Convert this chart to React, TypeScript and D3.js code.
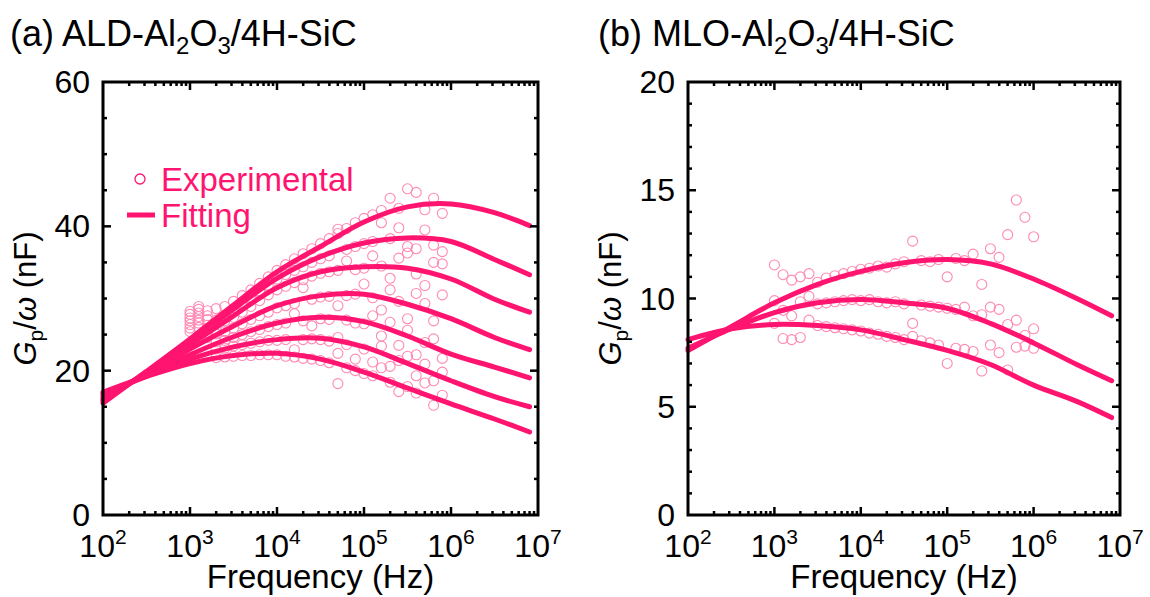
import React from "react";
import * as d3 from "d3";

const W = 1150;
const H = 597;
const PINK = "#ff1470";
const PINK_LIGHT = "#ff8ab4";
const FONT = "'Liberation Sans', Arial, sans-serif";

// Fitting curves: frequency (Hz) and Gp/ω (nF)
const FIT_FREQ = [100, 316, 1000, 3162, 10000, 31623, 100000, 316228, 1000000, 3162278, 8000000];

const ALD_FIT_1 = [15.5, 19.9, 24.4, 29.1, 33.7, 37.2, 40.6, 42.7, 43.1, 41.9, 40.1];
const ALD_FIT_2 = [15.8, 19.8, 24.0, 28.5, 32.8, 35.8, 37.7, 38.4, 37.9, 35.4, 33.3];
const ALD_FIT_3 = [16.0, 19.7, 23.6, 27.6, 31.5, 33.7, 34.4, 34.2, 32.7, 29.9, 28.1];
const ALD_FIT_4 = [16.2, 19.6, 23.0, 26.2, 29.0, 30.4, 30.6, 29.2, 27.2, 24.6, 22.9];
const ALD_FIT_5 = [16.5, 19.4, 22.2, 24.7, 26.6, 27.4, 26.8, 24.8, 22.3, 20.5, 19.0];
const ALD_FIT_6 = [16.8, 19.2, 21.6, 23.3, 24.3, 24.5, 23.3, 21.0, 18.6, 16.4, 15.0];
const ALD_FIT_7 = [17.0, 19.2, 21.0, 22.1, 22.4, 21.6, 19.8, 17.6, 15.4, 13.3, 11.5];

const MLO_FIT_1 = [7.6, 8.7, 9.8, 10.65, 11.25, 11.65, 11.8, 11.6, 10.9, 10.0, 9.2];
const MLO_FIT_2 = [7.7, 8.6, 9.35, 9.8, 9.95, 9.8, 9.55, 8.85, 7.95, 6.95, 6.2];
const MLO_FIT_3 = [8.1, 8.6, 8.8, 8.75, 8.55, 8.1, 7.6, 6.95, 6.0, 5.25, 4.5];

// Experimental points
const ALD_EXP_FREQ = [
  1000, 1259, 1585, 1995, 2512, 3162, 3981, 5012, 6310, 7943,
  10000, 12589, 15849, 19953, 25119, 31623, 39811, 50119, 63096, 79433,
  100000, 125893, 158489, 199526, 251189, 316228, 398107, 501187, 630957, 794328,
];
const ALD_EXP_1 = [28.2, 28.9, 28.3, 28.6, 28.9, 29.6, 30.4, 31.2, 32.1, 33.0, 33.9, 34.7, 35.5, 36.2, 36.9, 37.6, 38.3, 39.0, 39.7, 40.5, 41.1, 41.6, 42.2, 43.9, 42.5, 45.2, 44.7, 42.3, 43.9, 41.8];
const ALD_EXP_2 = [27.8, 28.5, 27.6, 27.0, 27.5, 28.3, 29.2, 30.1, 31.0, 31.8, 32.7, 33.3, 33.9, 34.4, 35.0, 35.5, 35.9, 39.6, 36.8, 37.2, 37.6, 37.9, 40.5, 38.3, 39.8, 37.2, 36.9, 39.5, 37.4, 36.5];
const ALD_EXP_3 = [27.3, 28.0, 27.1, 26.5, 26.9, 27.4, 28.1, 28.9, 29.7, 30.5, 31.2, 31.7, 32.2, 32.6, 33.1, 33.5, 33.7, 33.9, 35.2, 34.0, 34.2, 35.9, 34.5, 32.8, 35.6, 36.3, 33.4, 31.8, 35.0, 34.8];
const ALD_EXP_4 = [26.9, 27.5, 26.3, 25.1, 25.4, 25.9, 26.5, 27.1, 27.6, 28.1, 28.7, 29.0, 29.3, 31.5, 29.9, 30.2, 30.3, 29.0, 30.4, 30.6, 32.0, 30.1, 28.4, 31.2, 29.6, 27.2, 30.7, 29.3, 26.9, 30.5];
const ALD_EXP_5 = [26.4, 27.0, 25.8, 24.0, 24.2, 24.6, 25.0, 25.4, 25.7, 26.1, 26.4, 26.6, 27.9, 26.9, 26.2, 27.2, 27.1, 24.6, 27.0, 26.6, 26.5, 27.6, 24.8, 26.7, 23.5, 25.6, 22.2, 23.9, 24.4, 21.7];
const ALD_EXP_6 = [25.9, 26.6, 25.2, 23.0, 23.1, 23.4, 23.6, 23.8, 24.0, 24.2, 24.2, 24.3, 22.9, 24.3, 24.4, 24.3, 24.1, 22.4, 23.6, 21.6, 23.0, 21.2, 23.4, 20.6, 21.4, 22.0, 19.3, 20.9, 18.6, 19.8];
const ALD_EXP_7 = [25.4, 26.0, 24.6, 21.8, 21.9, 22.0, 22.1, 22.1, 22.2, 22.2, 22.2, 22.0, 21.9, 21.7, 21.6, 21.4, 21.1, 18.2, 20.4, 20.0, 19.6, 19.3, 20.4, 18.4, 17.1, 17.8, 16.9, 18.3, 15.2, 16.6];

const MLO_EXP_FREQ = [
  1000, 1259, 1585, 1995, 2512, 3162, 3981, 5012, 6310, 7943,
  10000, 12589, 15849, 19953, 25119, 31623, 39811, 50119, 63096, 79433,
  100000, 125893, 158489, 199526, 251189, 316228, 398107, 501187, 630957, 794328,
  1000000,
];
const MLO_EXP_1 = [11.55, 11.1, 10.85, 11.0, 11.15, 10.75, 10.95, 11.05, 11.15, 11.25, 11.35, 11.4, 11.5, 11.45, 11.6, 11.7, 12.65, 11.75, 11.7, 11.8, 11.0, 11.85, 11.75, 12.05, 10.65, 12.3, 11.9, 12.95, 14.55, 13.75, 12.85];
const MLO_EXP_2 = [9.9, 9.45, 9.2, 9.85, 10.1, 9.75, 9.8, 9.85, 9.9, 9.95, 9.9, 9.95, 9.85, 9.8, 9.85, 9.75, 8.85, 9.7, 9.65, 9.6, 9.55, 9.5, 9.6, 9.2, 9.25, 9.6, 9.5, 8.8, 9.0, 8.3, 8.6];
const MLO_EXP_3 = [8.85, 8.15, 8.1, 8.2, 9.0, 8.75, 8.7, 8.65, 8.6, 8.55, 8.5, 8.4, 8.35, 8.25, 8.2, 8.1, 8.25, 8.05, 7.95, 7.85, 7.0, 7.7, 7.65, 7.55, 6.65, 7.85, 7.5, 6.7, 7.75, 7.8, 7.7];

const DECADES = [2, 3, 4, 5, 6, 7];

type PanelProps = {
  x0: number;
  x1: number;
  yMax: number;
  yMajor: number[];
  yMinorStep: number;
  fits: number[][];
  expFreq: number[];
  exps: number[][];
};

const Y0 = 515;
const Y1 = 82;

function Panel({ x0, x1, yMax, yMajor, yMinorStep, fits, expFreq, exps }: PanelProps) {
  const x = d3.scaleLog().domain([100, 1e7]).range([x0, x1]);
  const y = d3.scaleLinear().domain([0, yMax]).range([Y0, Y1]);
  const line = d3
    .line<[number, number]>()
    .x((d) => x(d[0]))
    .y((d) => y(d[1]))
    .curve(d3.curveCatmullRom.alpha(0.5));

  const majorLen = 8;
  const minorLen = 4;
  const xMinor: number[] = [];
  for (let e = 2; e < 7; e++) for (let m = 2; m <= 9; m++) xMinor.push(m * Math.pow(10, e));
  const yMinor: number[] = [];
  for (let v = yMinorStep; v < yMax; v += yMinorStep) if (!yMajor.includes(v)) yMinor.push(v);

  return (
    <g>
      {exps.map((vals, i) => (
        <g key={"e" + i}>
          {vals.map((v, j) => (
            <circle key={j} cx={x(expFreq[j])} cy={y(v)} r={5} fill="none" stroke={PINK_LIGHT} strokeWidth={1.1} />
          ))}
        </g>
      ))}
      {fits.map((vals, i) => (
        <path
          key={"f" + i}
          d={line(FIT_FREQ.map((f, j) => [f, vals[j]] as [number, number])) || ""}
          fill="none"
          stroke={PINK}
          strokeWidth={5}
          strokeLinecap="round"
        />
      ))}
      {/* ticks on all four sides, pointing inward */}
      <g stroke="#000" strokeWidth={2.5}>
        {DECADES.slice(1, -1).map((e) => {
          const xx = x(Math.pow(10, e));
          return (
            <g key={"xm" + e}>
              <line x1={xx} x2={xx} y1={Y0} y2={Y0 - majorLen} />
              <line x1={xx} x2={xx} y1={Y1} y2={Y1 + majorLen} />
            </g>
          );
        })}
        {xMinor.map((f) => {
          const xx = x(f);
          return (
            <g key={"xn" + f}>
              <line x1={xx} x2={xx} y1={Y0} y2={Y0 - minorLen} />
              <line x1={xx} x2={xx} y1={Y1} y2={Y1 + minorLen} />
            </g>
          );
        })}
        {yMajor.slice(1, -1).map((v) => {
          const yy = y(v);
          return (
            <g key={"ym" + v}>
              <line x1={x0} x2={x0 + majorLen} y1={yy} y2={yy} />
              <line x1={x1} x2={x1 - majorLen} y1={yy} y2={yy} />
            </g>
          );
        })}
        {yMinor.map((v) => {
          const yy = y(v);
          return (
            <g key={"yn" + v}>
              <line x1={x0} x2={x0 + minorLen} y1={yy} y2={yy} />
              <line x1={x1} x2={x1 - minorLen} y1={yy} y2={yy} />
            </g>
          );
        })}
      </g>
      <rect x={x0} y={Y1} width={x1 - x0} height={Y0 - Y1} fill="none" stroke="#000" strokeWidth={3} />
      {/* tick labels */}
      <g fontFamily={FONT} fontSize={32} fill="#000">
        {yMajor.map((v) => (
          <text key={"yl" + v} x={x0 - 13} y={y(v) + 11} textAnchor="end">
            {v}
          </text>
        ))}
        {DECADES.map((e) => (
          <text key={"xl" + e} x={x(Math.pow(10, e))} y={557} textAnchor="middle">
            10
            <tspan fontSize={21} dy={-13}>
              {e}
            </tspan>
          </text>
        ))}
        <text x={(x0 + x1) / 2} y={588} textAnchor="middle" fontSize={33}>
          Frequency (Hz)
        </text>
        <text transform={`translate(${x0 - 67},${(Y0 + Y1) / 2}) rotate(-90)`} textAnchor="middle" fontSize={31}>
          <tspan fontStyle="italic">G</tspan>
          <tspan fontSize={21} dy={7}>p</tspan>
          <tspan dy={-7}>/</tspan>
          <tspan fontStyle="italic">ω</tspan>
          <tspan> (nF)</tspan>
        </text>
      </g>
    </g>
  );
}

export default function App() {
  return (
    <svg width={W} height={H} style={{ display: "block", position: "absolute", left: 0, top: 0 }}>
      <rect width={W} height={H} fill="#fff" />
      <Panel
        x0={103}
        x1={538}
        yMax={60}
        yMajor={[0, 20, 40, 60]}
        yMinorStep={5}
        fits={[ALD_FIT_1, ALD_FIT_2, ALD_FIT_3, ALD_FIT_4, ALD_FIT_5, ALD_FIT_6, ALD_FIT_7]}
        expFreq={ALD_EXP_FREQ}
        exps={[ALD_EXP_1, ALD_EXP_2, ALD_EXP_3, ALD_EXP_4, ALD_EXP_5, ALD_EXP_6, ALD_EXP_7]}
      />
      <Panel
        x0={688}
        x1={1120}
        yMax={20}
        yMajor={[0, 5, 10, 15, 20]}
        yMinorStep={1}
        fits={[MLO_FIT_1, MLO_FIT_2, MLO_FIT_3]}
        expFreq={MLO_EXP_FREQ}
        exps={[MLO_EXP_1, MLO_EXP_2, MLO_EXP_3]}
      />
      {/* panel titles */}
      <g fontFamily={FONT} fontSize={36} fill="#000">
        <text x={10} y={46}>
          (a) ALD-Al<tspan fontSize={24} dy={8}>2</tspan>
          <tspan dy={-8}>O</tspan>
          <tspan fontSize={24} dy={8}>3</tspan>
          <tspan dy={-8}>/4H-SiC</tspan>
        </text>
        <text x={598} y={46}>
          (b) MLO-Al<tspan fontSize={24} dy={8}>2</tspan>
          <tspan dy={-8}>O</tspan>
          <tspan fontSize={24} dy={8}>3</tspan>
          <tspan dy={-8}>/4H-SiC</tspan>
        </text>
      </g>
      {/* legend */}
      <g fontFamily={FONT} fontSize={33} fill={PINK}>
        <circle cx={140} cy={179} r={5} fill="none" stroke={PINK} strokeWidth={1.3} />
        <text x={161} y={191}>Experimental</text>
        <line x1={127} x2={155} y1={215} y2={215} stroke={PINK} strokeWidth={5} />
        <text x={161} y={227}>Fitting</text>
      </g>
    </svg>
  );
}
